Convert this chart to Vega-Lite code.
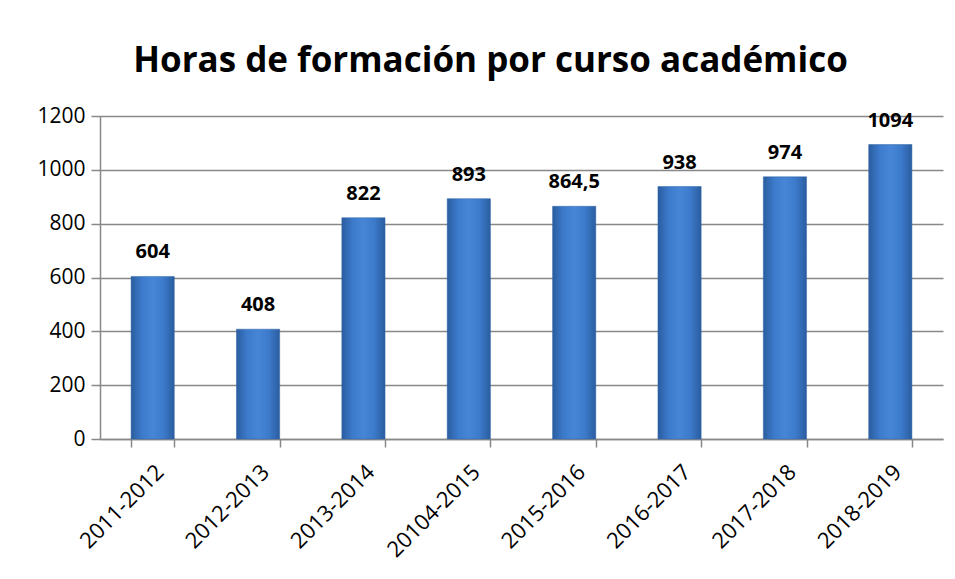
{
  "$schema": "https://vega.github.io/schema/vega-lite/v6.json",
  "autosize": "none",
  "width": 843,
  "height": 323,
  "padding": {"left": 100, "top": 116, "right": 12, "bottom": 140},
  "background": "white",
  "title": {
    "text": "Horas de formación por curso académico",
    "font": "Open Sans",
    "fontSize": 35,
    "fontWeight": "bold",
    "color": "#000000",
    "anchor": "middle",
    "frame": "group",
    "dx": -31,
    "offset": 26
  },
  "data": {
    "values": [
      {"curso": "2011-2012", "horas": 604, "label": "604"},
      {"curso": "2012-2013", "horas": 408, "label": "408"},
      {"curso": "2013-2014", "horas": 822, "label": "822"},
      {"curso": "20104-2015", "horas": 893, "label": "893"},
      {"curso": "2015-2016", "horas": 864.5, "label": "864,5"},
      {"curso": "2016-2017", "horas": 938, "label": "938"},
      {"curso": "2017-2018", "horas": 974, "label": "974"},
      {"curso": "2018-2019", "horas": 1094, "label": "1094"}
    ]
  },
  "encoding": {
    "x": {
      "field": "curso",
      "type": "nominal",
      "sort": null,
      "title": null,
      "scale": {"paddingInner": 0.59, "paddingOuter": 0.295},
      "axis": {
        "labelAngle": -45,
        "labelFont": "Open Sans",
        "labelFontSize": 22,
        "labelColor": "#000000",
        "labelPadding": 14,
        "domainColor": "#888888",
        "domainWidth": 1.5,
        "tickColor": "#888888",
        "tickWidth": 1.5,
        "tickSize": 8,
        "tickBand": "extent",
        "grid": false
      }
    },
    "y": {
      "field": "horas",
      "type": "quantitative",
      "title": null,
      "scale": {"domain": [0, 1200], "nice": false},
      "axis": {
        "values": [0, 200, 400, 600, 800, 1000, 1200],
        "format": "d",
        "labelFont": "Open Sans",
        "labelFontSize": 21,
        "labelColor": "#000000",
        "labelPadding": 6,
        "domainColor": "#888888",
        "domainWidth": 1.5,
        "tickColor": "#888888",
        "tickWidth": 1.5,
        "tickSize": 9,
        "gridColor": "#888888",
        "gridWidth": 1.5,
        "gridOpacity": 1
      }
    }
  },
  "layer": [
    {
      "mark": {
        "type": "bar",
        "color": {
          "gradient": "linear",
          "x1": 0, "y1": 0, "x2": 1, "y2": 0,
          "stops": [
            {"offset": 0, "color": "#2b5d9f"},
            {"offset": 0.25, "color": "#3c7acb"},
            {"offset": 0.5, "color": "#4786d6"},
            {"offset": 0.75, "color": "#3c7acb"},
            {"offset": 1, "color": "#2b5d9f"}
          ]
        },
        "stroke": "#2f64a8",
        "strokeWidth": 0.5
      }
    },
    {
      "mark": {
        "type": "text",
        "font": "Open Sans",
        "fontSize": 20,
        "fontWeight": "bold",
        "color": "#000000",
        "baseline": "alphabetic",
        "dy": -18
      },
      "encoding": {
        "text": {"field": "label"}
      }
    }
  ],
  "config": {
    "view": {"stroke": null}
  }
}
